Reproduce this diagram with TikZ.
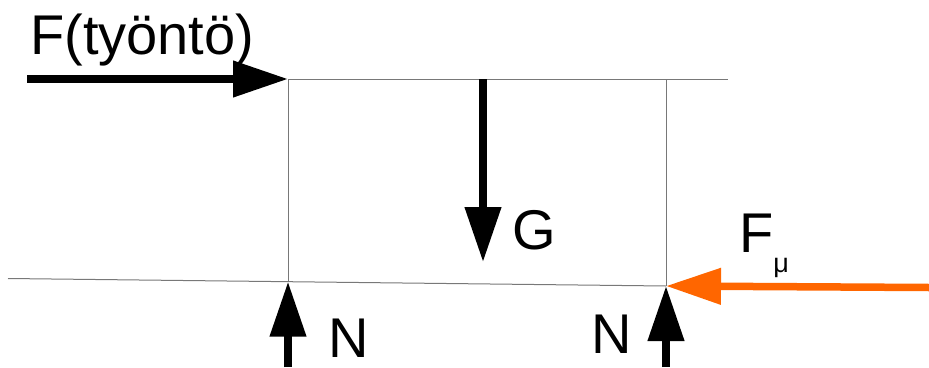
\documentclass[tikz,border=0pt]{standalone}
\usepackage{fontspec}
\setmainfont{Liberation Sans}
\usetikzlibrary{arrows.meta}
\definecolor{fricorange}{RGB}{255,102,0}
\definecolor{thingray}{RGB}{120,120,120}
\begin{document}
\begin{tikzpicture}[x=1pt,y=-1pt,
  force/.style={line width=7.5pt,-{Triangle[length=55pt,width=35pt]}},
  thin/.style={draw=thingray,line width=1pt},
  lbl/.style={anchor=base west,inner sep=0pt,font=\fontsize{56}{62}\selectfont}]
\useasboundingbox (0,0) rectangle (929,367);
% corners and ends
\coordinate (TL) at (288,79);
\coordinate (TR) at (666,79);
\coordinate (TE) at (728,79);
\coordinate (BL) at (288,281.7);
\coordinate (BR) at (666,286);
\coordinate (BS) at (8,278.5);
\coordinate (Fstart) at (27,79);
\coordinate (Gtop) at (483,79);
\coordinate (Gtip) at (483,262);
\coordinate (N1s) at (288,367);
\coordinate (N2s) at (666,367);
\coordinate (Fmus) at (929,287.5);
% box lines
\draw[thin] (TL) -- (TE);
\draw[thin] (TL) -- (BL);
\draw[thin] (TR) -- (BR);
\draw[thin] (BS) -- (BR);
% forces
\draw[force] (Fstart) -- (TL);
\draw[force] (Gtop) -- (Gtip);
\draw[force] (N1s) -- (BL);
\draw[force] (N2s) -- (BR);
\draw[force,draw=fricorange,fill=fricorange] (Fmus) -- (BR);
% labels
\node[lbl] (lF) at (30,54) {F(työntö)};
\node[lbl] (lG) at (512,249) {G};
\node[lbl] (lN1) at (328,357) {N};
\node[lbl] (lN2) at (591,353) {N};
\node[lbl] (lFmu) at (739,252) {F\raisebox{-20pt}{\fontsize{27}{30}\selectfont μ}};
\end{tikzpicture}
\end{document}
